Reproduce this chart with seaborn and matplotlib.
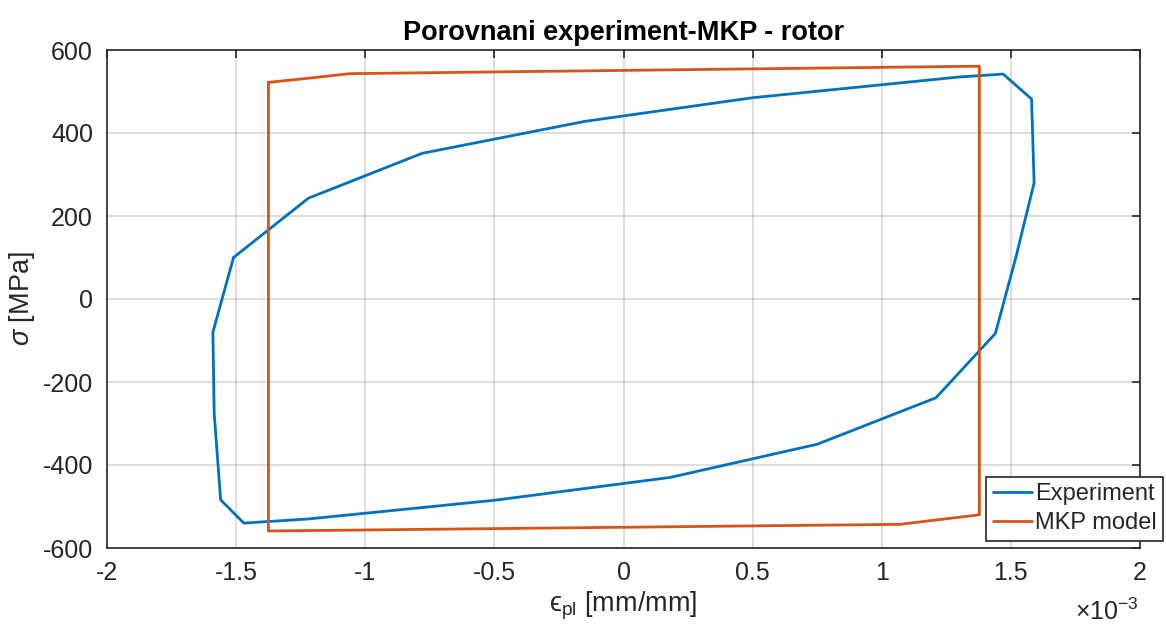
import numpy as np
import pandas as pd
import matplotlib
matplotlib.use("Agg")
import matplotlib.pyplot as plt
import seaborn as sns

# strain in units of 1e-3 mm/mm, stress in MPa
exp_strain = [-1.51, -1.22, -0.78, -0.15, 0.50, 1.30, 1.47, 1.58, 1.59, 1.52, 1.44,
              1.21, 0.75, 0.18, -0.50, -1.22, -1.47, -1.56, -1.585, -1.59, -1.51]
exp_stress = [100, 243, 351, 428, 485, 535, 542, 482, 280, 102, -83,
              -238, -350, -430, -485, -530, -540, -484, -275, -80, 100]

mkp_strain = [-1.375, -1.22, -1.06, 1.378, 1.378, 1.07, -1.375, -1.375]
mkp_stress = [522, 532, 543, 561, -520, -543, -559, 522]

xticks = [-2, -1.5, -1, -0.5, 0, 0.5, 1, 1.5, 2]
yticks = [-600, -400, -200, 0, 200, 400, 600]

sns.set_theme(style="white")
plt.rcParams['font.family'] = ['Liberation Sans', 'DejaVu Sans']
plt.rcParams['axes.unicode_minus'] = False
plt.rcParams['mathtext.fontset'] = 'custom'
plt.rcParams['mathtext.rm'] = 'Liberation Sans'
plt.rcParams['mathtext.it'] = 'Liberation Sans:italic'

W, H = 1166, 628
fig = plt.figure(figsize=(W/100, H/100), dpi=100)
ax = fig.add_axes([107/W, 1-548/H, (1140-107)/W, (548-50)/H])

df_exp = pd.DataFrame({"x": exp_strain, "y": exp_stress})
df_mkp = pd.DataFrame({"x": mkp_strain, "y": mkp_stress})
sns.lineplot(data=df_exp, x="x", y="y", sort=False, estimator=None, ax=ax,
             color="#0072BD", lw=2, label="Experiment")
sns.lineplot(data=df_mkp, x="x", y="y", sort=False, estimator=None, ax=ax,
             color="#D95319", lw=2, label="MKP model")

ax.set_xlim(-2, 2)
ax.set_ylim(-600, 600)
ax.set_xticks(xticks)
ax.set_xticklabels([f"{t:g}" for t in xticks])
ax.set_yticks(yticks)
ax.set_yticklabels([f"{t:g}" for t in yticks])
ax.grid(True, color="#262626", alpha=0.15, lw=1.5)
ax.tick_params(direction="in", length=6, width=1.2, colors="#262626",
               labelsize=18, labelcolor="#262626", top=True, right=True)
ax.tick_params(axis="x", pad=9)
ax.tick_params(axis="y", pad=10)
for s in ax.spines.values():
    s.set_color("#262626")
    s.set_linewidth(1.2)

ax.set_title("Porovnani experiment-MKP - rotor", fontsize=19.5, fontweight="bold",
             pad=7, color="black")
ax.set_xlabel(r"ϵ$_{\rm pl}$ [mm/mm]", fontsize=19.5, color="#262626", labelpad=4)
ax.set_ylabel(r"$\sigma$ [MPa]", fontsize=19.5, color="#262626", labelpad=4)
fig.text(1075/W, 1-612/H, "×10$^{-3}$", fontsize=18, color="#262626",
         ha="left", va="center")

leg = ax.legend(loc="lower left", bbox_to_anchor=(986/W, 1-541/H),
                bbox_transform=fig.transFigure,
                fontsize=17, frameon=True, fancybox=False,
                edgecolor="#262626", framealpha=1, handlelength=1.65,
                handletextpad=0.15, borderaxespad=0, borderpad=0.28,
                labelspacing=0.3)
leg.get_frame().set_linewidth(1.2)

fig.savefig("out.png", dpi=100)
